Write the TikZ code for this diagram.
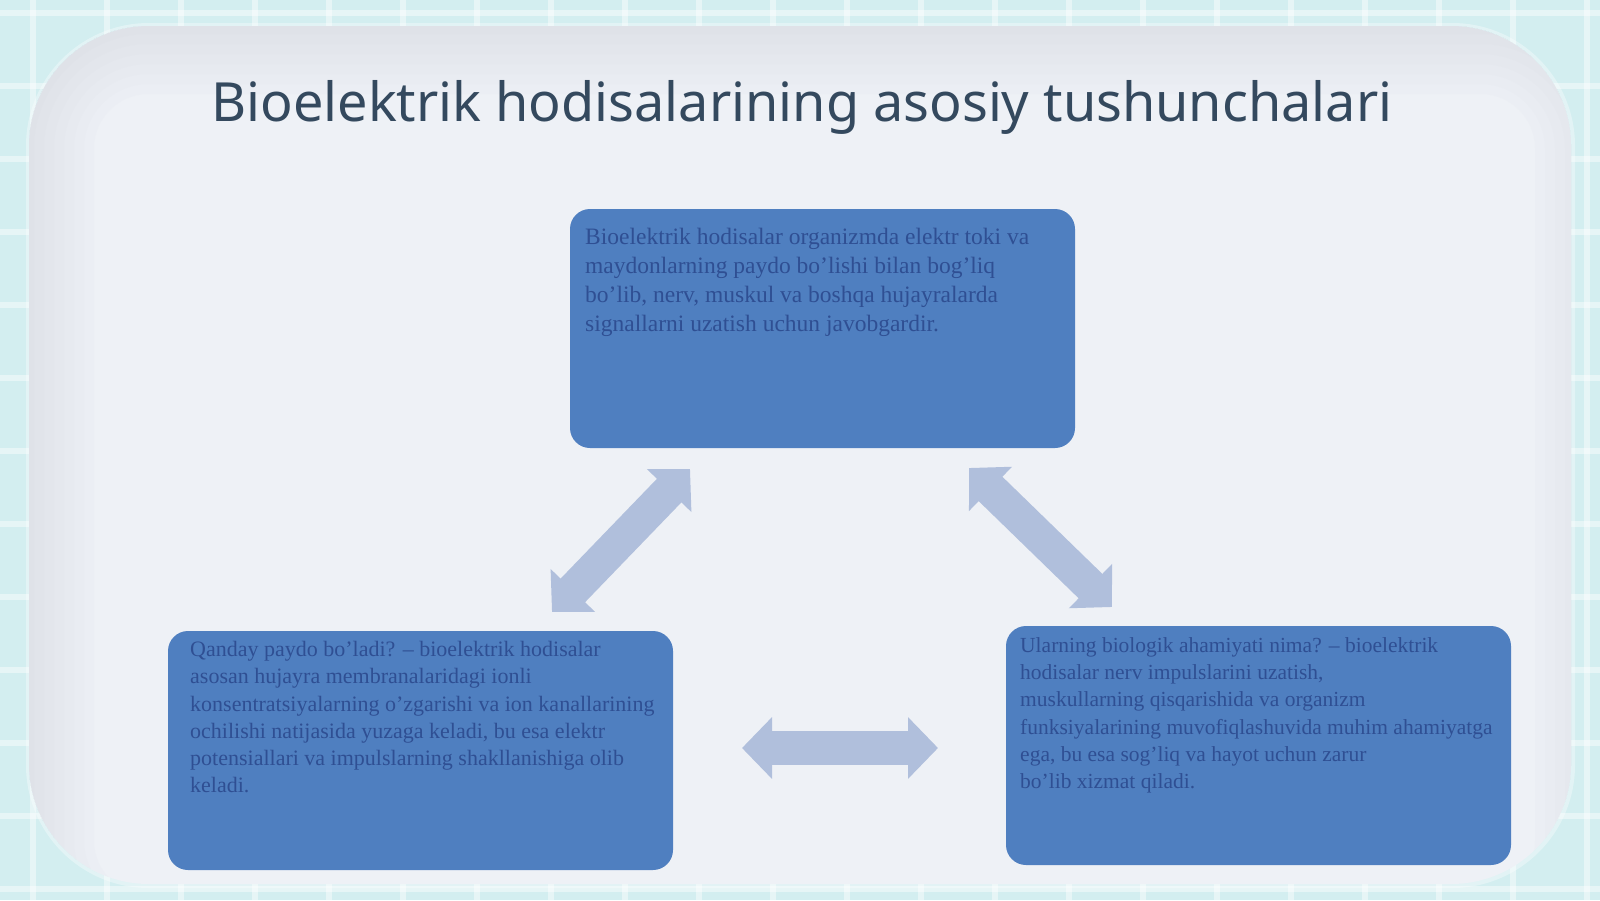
\documentclass[tikz,border=0pt]{standalone}
\usepackage{fontspec}
\setmainfont{Liberation Serif}
\newfontfamily\titlefont{Noto Sans}
\usetikzlibrary{arrows.meta}
\definecolor{bgcyan}{HTML}{D3EEF0}
\definecolor{panelc}{HTML}{EEF1F6}
\definecolor{panelshade}{HTML}{C4C8D6}
\definecolor{boxfill}{HTML}{4F7FC0}
\definecolor{boxtext}{HTML}{2F4F93}
\definecolor{arrowc}{HTML}{B0BFDC}
\definecolor{titlec}{HTML}{34495E}
\tikzset{
  infobox/.style={fill=boxfill, rounded corners=20pt, minimum width=505pt, minimum height=239pt, inner sep=0pt, draw=none},
  infotext/.style={anchor=north west, text=boxtext, align=left, inner sep=0pt},
  bigtext/.style={infotext, font=\fontsize{23.5}{29}\selectfont},
  smalltext/.style={infotext, font=\fontsize{22}{27.3}\selectfont},
  sidetext/.style={infotext, font=\fontsize{21.5}{27.3}\selectfont},
  blockarrow/.style={draw=arrowc, line width=34pt, {Triangle[length=30pt,width=60pt,fill=arrowc]}-{Triangle[length=30pt,width=60pt,fill=arrowc]}},
  gridline/.style={draw=white, opacity=0.45, line width=6pt},
}
\begin{document}
\begin{tikzpicture}[x=1pt,y=-1pt]
\useasboundingbox (0,0) rectangle (1600,900);
% background
\fill[bgcyan] (0,0) rectangle (1600,900);
\foreach \gx in {33,107,...,1600} \draw[gridline] (\gx,0) -- (\gx,900);
\foreach \gy in {13,86,...,900} \draw[gridline] (0,\gy) -- (1600,\gy);
% panel
\fill[white, opacity=0.35, rounded corners=123pt] (26,23) rectangle (1575,888);
\begin{scope}
  \clip[rounded corners=120pt] (29,26) rectangle (1571,884);
  \fill[panelc] (0,0) rectangle (1600,900);
  \foreach \w in {130,110,...,10}
    \draw[panelshade, opacity=0.05, line width=\w pt, rounded corners=120pt] (29,29) rectangle (1600,960);
\end{scope}
% title
\node[text=titlec, font=\titlefont\fontsize{54}{60}\selectfont] (title) at (802,107) {Bioelektrik hodisalarining asosiy tushunchalari};
% boxes
\node[infobox] (top) at (822.5,328.5) {};
\node[infobox] (left) at (420.5,750.5) {};
\node[infobox] (right) at (1258.5,745.5) {};
\node[bigtext] (toptxt) at (585,228) {Bioelektrik hodisalar organizmda elektr toki va\\maydonlarning paydo bo'lishi bilan bog'liq\\bo'lib, nerv, muskul va boshqa hujayralarda\\signallarni uzatish uchun javobgardir.};
\node[smalltext] (lefttxt) at (190,641) {Qanday paydo bo'ladi? -- bioelektrik hodisalar\\asosan hujayra membranalaridagi ionli\\konsentratsiyalarning o'zgarishi va ion kanallarining\\ochilishi natijasida yuzaga keladi, bu esa elektr\\potensiallari va impulslarning shakllanishiga olib\\keladi.};
\node[sidetext] (righttxt) at (1020,637) {Ularning biologik ahamiyati nima? -- bioelektrik\\hodisalar nerv impulslarini uzatish,\\muskullarning qisqarishida va organizm\\funksiyalarining muvofiqlashuvida muhim ahamiyatga\\ega, bu esa sog'liq va hayot uchun zarur\\bo'lib xizmat qiladi.};
% arrows
\coordinate (a1) at (690,469);
\coordinate (b1) at (552,612);
\coordinate (a2) at (969,468);
\coordinate (b2) at (1112,607);
\coordinate (a3) at (742,748);
\coordinate (b3) at (938,748);
\draw[blockarrow] (a1) -- (b1);
\draw[blockarrow] (a2) -- (b2);
\draw[blockarrow] (a3) -- (b3);
\end{tikzpicture}
\end{document}
